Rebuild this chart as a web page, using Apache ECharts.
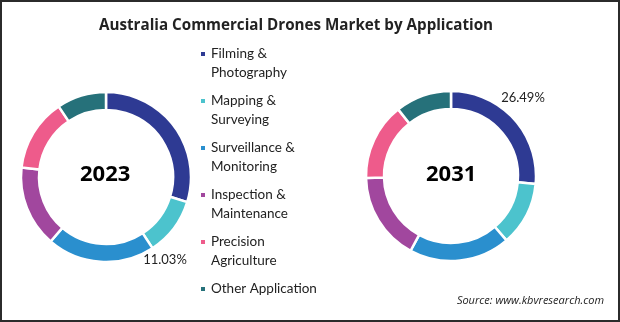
<!DOCTYPE html>
<html>
<head>
<meta charset="utf-8">
<script src="https://cdn.jsdelivr.net/npm/echarts@6/dist/echarts.min.js"></script>
<style>
  html, body { margin: 0; padding: 0; background: #fff; }
  #chart { width: 620px; height: 322px; box-sizing: border-box; border: 2px solid #2b2b2b; }
</style>
</head>
<body>
<div id="chart"></div>
<script>
// Application segments and their shares (%) for each year
const categories = [
  'Filming & Photography',
  'Mapping & Surveying',
  'Surveillance & Monitoring',
  'Inspection & Maintenance',
  'Precision Agriculture',
  'Other Application'
];
const legendLines = [
  ['Filming &', 'Photography'],
  ['Mapping &', 'Surveying'],
  ['Surveillance &', 'Monitoring'],
  ['Inspection &', 'Maintenance'],
  ['Precision', 'Agriculture'],
  ['Other Application']
];
const share2023 = [29.77, 11.03, 20.5, 15.5, 13.8, 9.4];
const share2031 = [26.49, 12.2, 19.2, 16.75, 14.7, 10.66];
const years = ['2023', '2031'];
// which slice carries a value label in each ring
const labelled2023 = 1;
const labelled2031 = 0;

const colors = ['#2E3A93', '#4CC3CD', '#2A8FCE', '#A1479E', '#EE5B8B', '#26717A'];

const chart = echarts.init(document.getElementById('chart'), null, { renderer: 'canvas' });

function ringData(values, labelledIndex) {
  return categories.map((name, i) => ({
    name,
    value: values[i],
    label: { show: i === labelledIndex }
  }));
}

// value label anchored just outside the ring at a given point
function ringSeries(values, labelledIndex, center, labelAt) {
  return {
    type: 'pie',
    radius: [67, 85],
    center,
    startAngle: 90,
    clockwise: true,
    avoidLabelOverlap: false,
    itemStyle: { borderColor: '#fff', borderWidth: 2.5 },
    label: {
      position: 'outside',
      formatter: p => p.value.toFixed(2) + '%',
      fontFamily: 'Lato, "Open Sans", sans-serif',
      fontSize: 13,
      color: '#222'
    },
    labelLine: { show: false },
    labelLayout: () => ({ x: labelAt[0], y: labelAt[1], align: 'center', verticalAlign: 'middle' }),
    emphasis: { disabled: true },
    data: ringData(values, labelledIndex)
  };
}

// legend text: a blank line above (and below for single lines) keeps the
// marker level with the first text line
function legendFormatter(name) {
  const lines = legendLines[categories.indexOf(name)];
  const parts = ['{t| }'].concat(lines.map(l => '{t|' + l + '}'));
  if (lines.length === 1) parts.push('{t| }');
  return parts.join('\n');
}

chart.setOption({
  animation: false,
  color: colors,
  title: {
    text: 'Australia Commercial Drones Market by Application',
    left: 92,
    top: 11,
    textStyle: {
      fontFamily: '"Open Sans", sans-serif',
      fontWeight: 'bold',
      fontSize: 15.2,
      color: '#222'
    }
  },
  legend: {
    orient: 'vertical',
    left: 192,
    top: 21,
    icon: 'rect',
    itemWidth: 6,
    itemHeight: 6,
    itemGap: -5,
    selectedMode: false,
    formatter: legendFormatter,
    textStyle: {
      rich: {
        t: {
          fontFamily: 'Lato, "Open Sans", sans-serif',
          fontSize: 13.5,
          lineHeight: 19,
          color: '#222'
        }
      }
    },
    data: categories
  },
  graphic: [
    {
      type: 'text', left: 78, top: 162,
      style: { text: years[0], font: 'bold 22px "Open Sans", sans-serif', fill: '#000' }
    },
    {
      type: 'text', left: 424, top: 162,
      style: { text: years[1], font: 'bold 22px "Open Sans", sans-serif', fill: '#000' }
    },
    {
      type: 'text', right: 14, top: 293,
      style: {
        text: 'Source: www.kbvresearch.com',
        font: 'italic 11px "Open Sans", sans-serif',
        fill: '#222'
      }
    }
  ],
  series: [
    ringSeries(share2023, labelled2023, [104, 175], [163, 258]),
    ringSeries(share2031, labelled2031, [449, 174], [521, 96])
  ]
});
</script>
</body>
</html>
